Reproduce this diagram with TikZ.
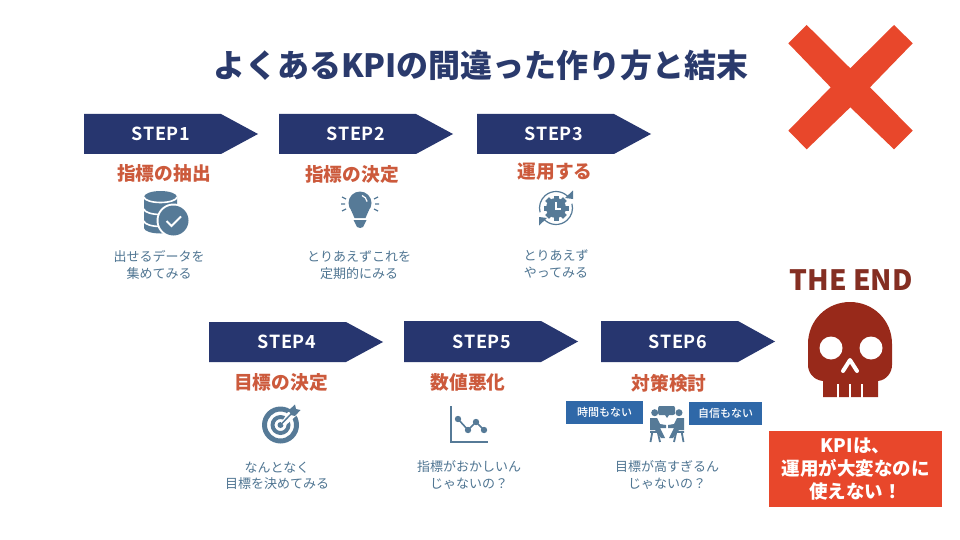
\documentclass[tikz,border=0pt]{standalone}
\usepackage{fontspec}
\setmainfont{Noto Sans CJK JP}
\newfontfamily\medfont{Noto Sans CJK JP Medium}
\newfontfamily\stepfont[LetterSpace=4]{Noto Sans CJK JP Bold}
\usetikzlibrary{positioning}
\definecolor{navy}{HTML}{27366F}
\definecolor{titlenavy}{HTML}{2A3A6C}
\definecolor{redcross}{HTML}{E8472B}
\definecolor{stepred}{HTML}{CC5A3C}
\definecolor{skullred}{HTML}{98291A}
\definecolor{endred}{HTML}{842E22}
\definecolor{iconblue}{HTML}{567A97}
\definecolor{descblue}{HTML}{4F7592}
\definecolor{tagblue}{HTML}{2F68A8}
\tikzset{
    title/.style={inner sep=0pt, text=titlenavy, font=\fontsize{32}{36}\selectfont\bfseries},
    steptext/.style={inner sep=0pt, text=white, font=\fontsize{18}{20}\selectfont\stepfont},
    stephead/.style={inner sep=0pt, text=stepred, font=\fontsize{18.7}{20}\selectfont\bfseries},
    desc/.style={inner sep=0pt, text=descblue, align=center, font=\fontsize{13}{16.5}\selectfont},
    tag/.style={inner sep=0pt, fill=tagblue, text=white, minimum width=75pt, minimum height=23pt, font=\fontsize{11}{13}\selectfont\medfont},
    verdict/.style={inner sep=0pt, fill=redcross, text=white, align=center, minimum width=173pt, minimum height=76pt, font=\fontsize{18.5}{23}\selectfont\bfseries},
    theend/.style={inner sep=0pt, text=endred, font=\fontsize{28}{30}\selectfont\bfseries}
}
% arrow banner: left, top, bottom, text centre
\newcommand{\banner}[6]{
    \fill[navy] (#2, #3) -- (#2+137, #3) -- (#2+174, #3/2+#4/2) -- (#2+137, #4) -- (#2, #4) -- cycle;
    \node[steptext] (#1) at (#5, #3/2+#4/2) {#6};
}
\begin{document}
\begin{tikzpicture}[x=1pt, y=-1pt]
    \useasboundingbox[fill=white] (0, 0) rectangle (960, 540);

    \node[title] (heading) at (481, 65) {よくあるKPIの間違った作り方と結末};

    % the cross
    \fill[redcross] (806.7, 25) -- (850.3, 68.3) -- (894, 25) -- (912.7, 43.3) -- (870, 87.3) -- (912.7, 130.7)
        -- (894, 149.3) -- (850.3, 107.3) -- (806.7, 149.3) -- (788.3, 130.7) -- (830.7, 87.3) -- (788.3, 43.3) -- cycle;

    \banner{step1}{84}{114}{154}{161}{STEP1}
    \banner{step2}{279}{114}{154}{356}{STEP2}
    \banner{step3}{477}{114}{154}{554}{STEP3}
    \banner{step4}{209}{322}{362}{287}{STEP4}
    \banner{step5}{404}{321}{362}{482}{STEP5}
    \banner{step6}{601}{321}{362}{678}{STEP6}

    \node[stephead] (head1) at (164, 173) {指標の抽出};
    \node[stephead] (head2) at (352, 174) {指標の決定};
    \node[stephead] (head3) at (555, 172) {運用する};
    \node[stephead] (head4) at (281, 382) {目標の決定};
    \node[stephead] (head5) at (468, 382) {数値悪化};
    \node[stephead] (head6) at (669, 383) {対策検討};

    \node[desc] (desc1) at (159, 265) {出せるデータを\\集めてみる};
    \node[desc] (desc2) at (359, 265) {とりあえずこれを\\定期的にみる};
    \node[desc] (desc3) at (556, 264) {とりあえず\\やってみる};
    \node[desc] (desc4) at (277, 476) {なんとなく\\目標を決めてみる};
    \node[desc] (desc5) at (469, 475) {指標がおかしいん\\じゃないの？};
    \node[desc] (desc6) at (667, 475) {目標が高すぎるん\\じゃないの？};

    \node[tag, minimum width=77pt] (tag1) at (604.5, 412.5) {時間もない};
    \node[tag, minimum width=73pt] (tag2) at (725.5, 413.5) {自信もない};

    % database with check
    \fill[iconblue] (144, 197) arc[start angle=180, end angle=360, x radius=16.5, y radius=6] -- (177, 228)
        arc[start angle=0, end angle=180, x radius=16.5, y radius=5.5] -- cycle;
    \draw[white, line width=1.6pt] (144, 197) arc[start angle=180, end angle=0, x radius=16.5, y radius=5.5];
    \draw[white, line width=1.6pt] (144, 209) arc[start angle=180, end angle=0, x radius=16.5, y radius=5.5];
    \draw[white, line width=1.6pt] (144, 221) arc[start angle=180, end angle=0, x radius=16.5, y radius=5.5];
    \fill[white] (173.5, 220.5) circle[radius=17];
    \fill[iconblue] (173.5, 220.5) circle[radius=15];
    \draw[white, line width=2pt] (166.5, 221) -- (171.5, 226) -- (181, 216.5);

    % bulb
    \fill[iconblue] (360, 203) circle[radius=11.5];
    \fill[iconblue] (351, 210) -- (369, 210) -- (365.5, 218) -- (354.5, 218) -- cycle;
    \fill[iconblue] (353.5, 220) -- (366.5, 220) -- (363, 227) -- (360, 228) -- (357, 227) -- cycle;
    \draw[white, line width=1.2pt] (362, 195.5) arc[start angle=-70, end angle=-10, radius=8];
    \draw[iconblue, line width=1.2pt] (342, 197) -- (346, 199) (341, 204) -- (345, 204) (342, 211) -- (346, 209);
    \draw[iconblue, line width=1.2pt] (378, 197) -- (374, 199) (379, 204) -- (375, 204) (378, 211) -- (374, 209);

    % gear and clock
    \foreach \a in {0, 45, ..., 315} {
        \fill[iconblue, rotate around={\a:(556, 208)}] (553.5, 195.5) rectangle (558.5, 220.5);
    }
    \fill[iconblue] (556, 208) circle[radius=10];
    \draw[white, line width=1.2pt] (556, 202) -- (556, 209) -- (561, 209);
    \draw[iconblue, line width=1.2pt] (556, 208) ++(-42:16.5) arc[start angle=-42, end angle=-195, radius=16.5];
    \draw[iconblue, line width=1.2pt] (556, 208) ++(138:16.5) arc[start angle=138, end angle=-15, radius=16.5];
    \fill[iconblue] (573, 190.5) -- (573, 199) -- (565, 198) -- cycle;
    \fill[iconblue] (539, 225.5) -- (539, 217) -- (547, 218) -- cycle;

    % target
    \fill[iconblue, even odd rule] (280.5, 425) circle[radius=18.5] circle[radius=13.5] circle[radius=10] circle[radius=6];
    \fill[iconblue] (280.5, 425) circle[radius=3];
    \fill[white] (288, 412) -- (298, 414) -- (285, 426) -- (281, 423) -- cycle;
    \draw[iconblue, line width=1.5pt] (280.5, 425) -- (292, 413);
    \fill[iconblue] (289, 410) -- (295, 404.5) -- (296, 409) -- (300.5, 410) -- (295, 416) -- (291, 415) -- cycle;

    % line chart
    \draw[iconblue, line width=1.6pt] (450.7, 406) -- (450.7, 442) -- (488, 442);
    \draw[iconblue, line width=1.6pt] (458, 419) -- (468, 430) -- (476, 422) -- (484, 430);
    \foreach \px/\py in {458/419, 468/430, 476/422, 484/430} {
        \fill[iconblue] (\px, \py) circle[radius=3.2];
    }

    % two people talking
    \fill[iconblue] (659, 406) -- (674, 406) -- (675, 408) -- (675, 414) -- (673, 415) -- (669, 415) -- (667, 418) -- (665, 415) -- (659, 415) -- (658, 413) -- (658, 408) -- cycle;
    \fill[iconblue] (654.7, 412.7) circle[radius=3.5];
    \fill[iconblue] (679, 412.7) circle[radius=3.5];
    \fill[iconblue] (650, 418) -- (657, 418) -- (660, 424) -- (666, 425) -- (666, 428) -- (660, 428) -- (665, 438) -- (661, 438) -- (655, 430) -- (650, 430) -- cycle;
    \fill[iconblue] (684, 418) -- (677, 418) -- (674, 424) -- (668, 425) -- (668, 428) -- (674, 428) -- (669, 438) -- (673, 438) -- (679, 430) -- (684, 430) -- cycle;
    \draw[iconblue, line width=1.8pt] (650, 432) -- (660, 432) (652.5, 431) -- (650.5, 442) (657.5, 431) -- (660, 442);
    \draw[iconblue, line width=1.8pt] (674, 432) -- (684, 432) (681.5, 431) -- (683.5, 442) (676.5, 431) -- (674, 442);

    \node[theend] (end) at (851, 280) {THE END};

    % skull
    \fill[skullred] (823, 397) -- (823, 381) .. controls (813, 380) and (808, 372) .. (808, 365) -- (808, 344)
        .. controls (808, 320) and (827, 302) .. (850, 302) .. controls (873, 302) and (892, 320) .. (892, 344)
        -- (892, 365) .. controls (892, 372) and (887, 380) .. (878, 381) -- (878, 397) -- cycle;
    \fill[white] (831, 348) circle[radius=11.5];
    \fill[white] (871, 348) circle[radius=11.5];
    \draw[white, line width=4pt, line cap=round, line join=round] (843, 371) -- (850, 360) -- (857, 371);
    \draw[white, line width=2.5pt] (838, 384) -- (838, 398) (850, 384) -- (850, 398) (862, 384) -- (862, 398);

    \node[verdict] (result) at (855.5, 469) {KPIは、\\運用が大変なのに\\使えない！};
\end{tikzpicture}
\end{document}
